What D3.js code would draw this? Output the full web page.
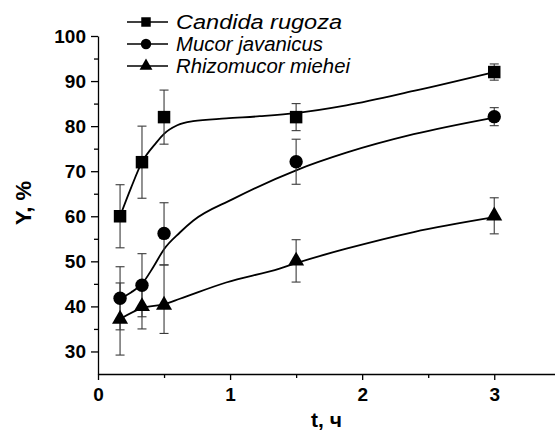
<!DOCTYPE html>
<html>
<head>
<meta charset="utf-8">
<script src="https://cdn.jsdelivr.net/npm/d3@7"></script>
<style>
  body { margin: 0; background: #fff; }
  svg { display: block; font-family: "Liberation Sans", Arial, sans-serif; }
</style>
</head>
<body>
<div id="chart"></div>
<script>
// tiempos de muestreo, h
const times = [0.167, 0.333, 0.5, 1.5, 3];

// rendimiento Y, % y su error (abajo / arriba)
const candida = [60, 72, 82, 82, 92];
const candidaErrLo = [7, 8, 6, 3, 1.8];
const candidaErrHi = [7, 8, 6, 3, 1.8];
const mucor = [41.8, 44.7, 56.2, 72.1, 82.1];
const mucorErrLo = [7, 7, 7, 5, 2];
const mucorErrHi = [7, 7, 6.8, 5, 2];
const rhizo = [37.2, 40, 40.3, 50.1, 60.1];
const rhizoErrLo = [8, 5, 6.3, 4.7, 4];
const rhizoErrHi = [8, 5, 8.9, 4.7, 4];

// curvas de ajuste
const candidaFitT = [0.167, 0.25, 0.333, 0.44, 0.5, 0.6, 0.72, 0.97, 1.225, 1.5, 1.88, 2.39, 3];
const candidaFitY = [60, 66.3, 72, 76.3, 78.3, 80.2, 81.1, 81.7, 82.2, 82.9, 84.6, 87.8, 92];
const mucorFitT = [0.167, 0.25, 0.333, 0.42, 0.5, 0.62, 0.72, 1.02, 1.5, 1.88, 2.39, 3];
const mucorFitY = [41.8, 43.1, 45.0, 48.8, 52.7, 56.4, 59.0, 63.8, 70.2, 74.1, 78.2, 81.9];
const rhizoFitT = [0.167, 0.333, 0.5, 0.62, 0.97, 1.375, 1.5, 1.88, 2.39, 3];
const rhizoFitY = [37.2, 39.6, 40.5, 41.7, 45.3, 48.4, 49.6, 52.8, 56.5, 59.8];

const seriesNames = ["Candida rugoza", "Mucor javanicus", "Rhizomucor miehei"];
const xTicks = [0, 1, 2, 3];
const xMinor = [0.5, 1.5, 2.5];
const yTicks = [30, 40, 50, 60, 70, 80, 90, 100];
const yMinor = [35, 45, 55, 65, 75, 85, 95];

const series = [
  { name: seriesNames[0], y: candida, lo: candidaErrLo, hi: candidaErrHi, fitT: candidaFitT, fitY: candidaFitY, sym: d3.symbolSquare, size: 156, legSize: 90 },
  { name: seriesNames[1], y: mucor, lo: mucorErrLo, hi: mucorErrHi, fitT: mucorFitT, fitY: mucorFitY, sym: d3.symbolCircle, size: 141, legSize: 85 },
  { name: seriesNames[2], y: rhizo, lo: rhizoErrLo, hi: rhizoErrHi, fitT: rhizoFitT, fitY: rhizoFitY, sym: d3.symbolTriangle, size: 111, legSize: 72 }
];

const W = 555, H = 432;
const svg = d3.select("#chart").append("svg")
  .attr("width", W).attr("height", H);

const x = d3.scaleLinear().domain([0, 3.46]).range([98, 555]);
const y = d3.scaleLinear().domain([25, 100]).range([374, 36]);

// ejes
const gx = svg.append("g").attr("transform", "translate(0,374)")
  .call(d3.axisBottom(x).tickValues(xTicks).tickSize(6).tickSizeOuter(0).tickPadding(8).tickFormat(d3.format("d")));
svg.append("g").attr("transform", "translate(0,374)")
  .call(d3.axisBottom(x).tickValues(xMinor).tickSize(4).tickFormat(""))
  .call(g => g.select(".domain").remove());

const gy = svg.append("g").attr("transform", "translate(98,0)")
  .call(d3.axisLeft(y).tickValues(yTicks).tickSize(7).tickSizeOuter(0).tickPadding(5));
svg.append("g").attr("transform", "translate(98,0)")
  .call(d3.axisLeft(y).tickValues(yMinor).tickSize(4).tickFormat(""))
  .call(g => g.select(".domain").remove());

svg.selectAll(".domain, .tick line").attr("stroke", "#000").attr("stroke-width", 1.3);
[gx, gy].forEach(g => g.selectAll("text")
  .attr("fill", "#000")
  .style("font-family", "'Liberation Sans', Arial, sans-serif")
  .style("font-size", "19px")
  .style("font-weight", "bold"));

// titulos de ejes
svg.append("text")
  .attr("x", 311).attr("y", 427)
  .style("font-size", "21px").style("font-weight", "bold")
  .text("t, ч");
svg.append("text")
  .attr("transform", "translate(31,203) rotate(-90)")
  .attr("text-anchor", "middle")
  .style("font-size", "22px").style("font-weight", "bold")
  .text("Y, %");

const line = d3.line()
  .x(d => x(d[0])).y(d => y(d[1]))
  .curve(d3.curveMonotoneX);

// curvas
series.forEach(s => {
  svg.append("path")
    .datum(s.fitT.map((t, i) => [t, s.fitY[i]]))
    .attr("d", line)
    .attr("fill", "none")
    .attr("stroke", "#000")
    .attr("stroke-width", 1.8);
});

// barras de error
series.forEach(s => {
  const g = svg.append("g").attr("stroke", "#3a3a3a").attr("stroke-width", 1.1);
  times.forEach((t, i) => {
    const cx = x(t), y0 = y(s.y[i] - s.lo[i]), y1 = y(s.y[i] + s.hi[i]);
    g.append("line").attr("x1", cx).attr("x2", cx).attr("y1", y0).attr("y2", y1);
    g.append("line").attr("x1", cx - 4.5).attr("x2", cx + 4.5).attr("y1", y0).attr("y2", y0);
    g.append("line").attr("x1", cx - 4.5).attr("x2", cx + 4.5).attr("y1", y1).attr("y2", y1);
  });
});

// marcadores
series.forEach(s => {
  svg.append("g").selectAll("path")
    .data(times.map((t, i) => [t, s.y[i]]))
    .enter().append("path")
    .attr("d", d3.symbol().type(s.sym).size(s.size))
    .attr("transform", d => "translate(" + x(d[0]) + "," + y(d[1]) + ")")
    .attr("fill", "#000");
});

// leyenda
const legWidths = [166, 147, 174];
const legend = svg.selectAll(".legend")
  .data(series)
  .enter().append("g")
  .attr("class", "legend")
  .attr("transform", (d, i) => "translate(0," + (22 + i * 22) + ")");

legend.append("line")
  .attr("x1", 127).attr("x2", 168).attr("y1", 0).attr("y2", 0)
  .attr("stroke", "#000").attr("stroke-width", 1.3);
legend.append("path")
  .attr("d", d => d3.symbol().type(d.sym).size(d.legSize)())
  .attr("transform", "translate(146,0)")
  .attr("fill", "#000");
legend.append("text")
  .attr("x", 176).attr("y", 7)
  .attr("textLength", (d, i) => legWidths[i])
  .attr("lengthAdjust", "spacingAndGlyphs")
  .style("font-size", "20px").style("font-style", "italic")
  .text(d => d.name);
</script>
</body>
</html>
